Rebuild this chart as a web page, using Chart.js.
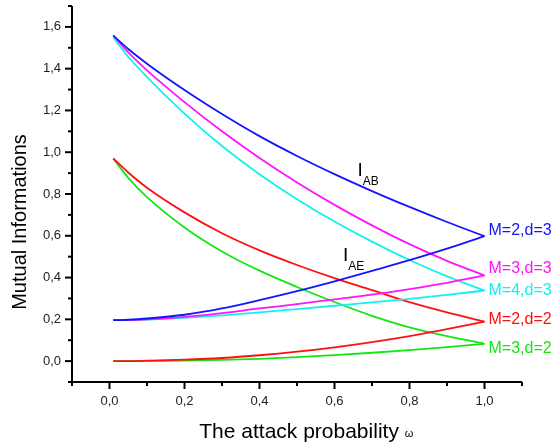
<!DOCTYPE html>
<html lang="en">
<head>
    <meta charset="UTF-8">
    <title>Mutual Informations vs attack probability</title>
    <script src="https://cdn.jsdelivr.net/npm/chart.js"></script>
    <style>
        body { margin: 0; background: #fff; }
    </style>
</head>
<body>
    <canvas id="grafico" width="554" height="445"></canvas>

    <script>
        // attack probability (x values)
        const omega = [0.01, 0.05, 0.1, 0.2, 0.3, 0.4, 0.5, 0.6, 0.7, 0.8, 0.9, 1.0];

        // I_AB curves (decreasing)
        const iabM2d3 = [1.558, 1.494, 1.424, 1.298, 1.183, 1.077, 0.982, 0.895, 0.814, 0.738, 0.666, 0.598];
        const iabM3d3 = [1.56, 1.478, 1.392, 1.24, 1.10, 0.972, 0.855, 0.748, 0.65, 0.56, 0.48, 0.41];
        const iabM4d3 = [1.55, 1.457, 1.36, 1.185, 1.03, 0.895, 0.775, 0.668, 0.572, 0.484, 0.406, 0.338];
        const iabM2d2 = [0.97, 0.903, 0.83, 0.712, 0.612, 0.53, 0.46, 0.397, 0.34, 0.282, 0.233, 0.189];
        const iabM3d2 = [0.97, 0.877, 0.785, 0.64, 0.525, 0.433, 0.355, 0.283, 0.217, 0.162, 0.12, 0.083];

        // I_AE curves (increasing)
        const iaeM2d3 = [0.196, 0.198, 0.204, 0.222, 0.252, 0.292, 0.335, 0.382, 0.432, 0.483, 0.538, 0.598];
        const iaeM3d3 = [0.196, 0.197, 0.2, 0.212, 0.23, 0.252, 0.273, 0.296, 0.318, 0.345, 0.375, 0.41];
        const iaeM4d3 = [0.196, 0.196, 0.199, 0.207, 0.219, 0.233, 0.249, 0.265, 0.281, 0.298, 0.317, 0.338];
        const iaeM2d2 = [0.0, 0.0, 0.002, 0.007, 0.015, 0.028, 0.045, 0.066, 0.091, 0.12, 0.153, 0.189];
        const iaeM3d2 = [0.0, 0.0, 0.001, 0.003, 0.006, 0.011, 0.019, 0.029, 0.04, 0.053, 0.067, 0.083];

        const serieNomes = ['M=2,d=3', 'M=3,d=3', 'M=4,d=3', 'M=2,d=2', 'M=3,d=2'];
        const serieCores = ['#1414ff', '#ff14ff', '#14f0f0', '#ff1010', '#14e614'];
        // y value (data units) where each right-hand label is centred
        const rotuloY = [0.624, 0.444, 0.336, 0.197, 0.061];

        const fonte = '"Liberation Sans", Arial, sans-serif';

        function pontos(ys) {
            return omega.map((x, i) => ({ x: x, y: ys[i] }));
        }

        const iab = [iabM2d3, iabM3d3, iabM4d3, iabM2d2, iabM3d2];
        const iae = [iaeM2d3, iaeM3d3, iaeM4d3, iaeM2d2, iaeM3d2];

        const datasets = [];
        for (let k = 0; k < 5; k++) {
            datasets.push({ label: serieNomes[k] + ' IAB', data: pontos(iab[k]), borderColor: serieCores[k] });
            datasets.push({ label: serieNomes[k] + ' IAE', data: pontos(iae[k]), borderColor: serieCores[k] });
        }
        datasets.forEach(d => {
            d.borderWidth = 1.8;
            d.pointRadius = 0;
            d.fill = false;
            d.cubicInterpolationMode = 'monotone';
        });

        function soDecimos(scale) {
            scale.ticks = scale.ticks.filter(t => Math.abs(t.value * 10 - Math.round(t.value * 10)) < 1e-6);
        }

        function rotulo(v) {
            const n = Math.round(v * 10);
            if (n % 2 !== 0) return '';
            return (n / 10).toFixed(1).replace('.', ',');
        }

        // axes, tick marks, titles and annotations
        const eixos = {
            id: 'eixos',
            afterDraw(chart) {
                const ctx = chart.ctx;
                const a = chart.chartArea;
                const sx = chart.scales.x;
                const sy = chart.scales.y;
                ctx.save();
                ctx.strokeStyle = '#000';
                ctx.lineWidth = 2;
                ctx.beginPath();
                ctx.moveTo(a.left, a.top);
                ctx.lineTo(a.left, a.bottom);
                ctx.lineTo(a.right, a.bottom);
                ctx.stroke();

                sx.ticks.forEach(t => {
                    const p = sx.getPixelForValue(t.value);
                    const major = Math.round(t.value * 10) % 2 === 0;
                    ctx.beginPath();
                    ctx.moveTo(p, a.bottom);
                    ctx.lineTo(p, a.bottom + (major ? 7 : 4));
                    ctx.stroke();
                });
                sy.ticks.forEach(t => {
                    const p = sy.getPixelForValue(t.value);
                    const major = Math.round(t.value * 10) % 2 === 0;
                    ctx.beginPath();
                    ctx.moveTo(a.left, p);
                    ctx.lineTo(a.left - (major ? 7 : 4), p);
                    ctx.stroke();
                });

                // axis titles
                ctx.fillStyle = '#000';
                ctx.textBaseline = 'middle';
                ctx.textAlign = 'center';
                ctx.font = '20px ' + fonte;
                ctx.save();
                ctx.translate(20, 222);
                ctx.rotate(-Math.PI / 2);
                ctx.fillText('Mutual Informations', 0, 0);
                ctx.restore();

                ctx.font = '21px ' + fonte;
                ctx.textAlign = 'left';
                const titulo = 'The attack probability ';
                const w = ctx.measureText(titulo).width;
                const x0 = 302 - w / 2;
                ctx.fillText(titulo, x0, 432);
                ctx.font = '11px ' + fonte;
                ctx.fillText('\u03c9', x0 + w, 434);

                // series labels at the right end
                ctx.font = '16px ' + fonte;
                const xFim = sx.getPixelForValue(1.0) + 4;
                for (let k = 0; k < 5; k++) {
                    ctx.fillStyle = serieCores[k];
                    ctx.fillText(serieNomes[k], xFim, sy.getPixelForValue(rotuloY[k]));
                }

                // I_AB and I_AE annotations
                ctx.fillStyle = '#000';
                ctx.textBaseline = 'alphabetic';
                [['AB', 0.664, 0.885], ['AE', 0.625, 0.48]].forEach(([sub, vx, vy]) => {
                    const px = sx.getPixelForValue(vx);
                    const py = sy.getPixelForValue(vy);
                    ctx.font = '19px ' + fonte;
                    ctx.fillText('I', px - 1, py);
                    const wi = ctx.measureText('I').width;
                    ctx.font = '12px ' + fonte;
                    ctx.fillText(sub, px - 1 + wi, py + 9);
                });
                ctx.restore();
            }
        };

        const ctx = document.getElementById('grafico').getContext('2d');
        new Chart(ctx, {
            type: 'line',
            data: { datasets: datasets },
            options: {
                responsive: false,
                animation: false,
                layout: { padding: { left: 0, right: 32, top: 6, bottom: 0 } },
                plugins: {
                    legend: { display: false },
                    tooltip: { enabled: false },
                },
                scales: {
                    x: {
                        type: 'linear',
                        min: -0.1,
                        max: 1.1,
                        afterFit: s => { s.height = 63; s.paddingLeft = 0; s.paddingRight = 0; },
                        afterBuildTicks: soDecimos,
                        grid: { display: false, drawTicks: false },
                        border: { display: false },
                        ticks: {
                            stepSize: 0.1,
                            autoSkip: false,
                            maxRotation: 0,
                            padding: 12,
                            color: '#222',
                            font: { size: 13, family: fonte },
                            callback: rotulo,
                        },
                    },
                    y: {
                        type: 'linear',
                        min: -0.1,
                        max: 1.7,
                        afterFit: s => { s.width = 72; s.paddingTop = 0; s.paddingBottom = 0; },
                        afterBuildTicks: soDecimos,
                        grid: { display: false, drawTicks: false },
                        border: { display: false },
                        ticks: {
                            stepSize: 0.1,
                            autoSkip: false,
                            padding: 11,
                            color: '#222',
                            font: { size: 13, family: fonte },
                            callback: rotulo,
                        },
                    },
                },
            },
            plugins: [eixos],
        });
    </script>
</body>
</html>
